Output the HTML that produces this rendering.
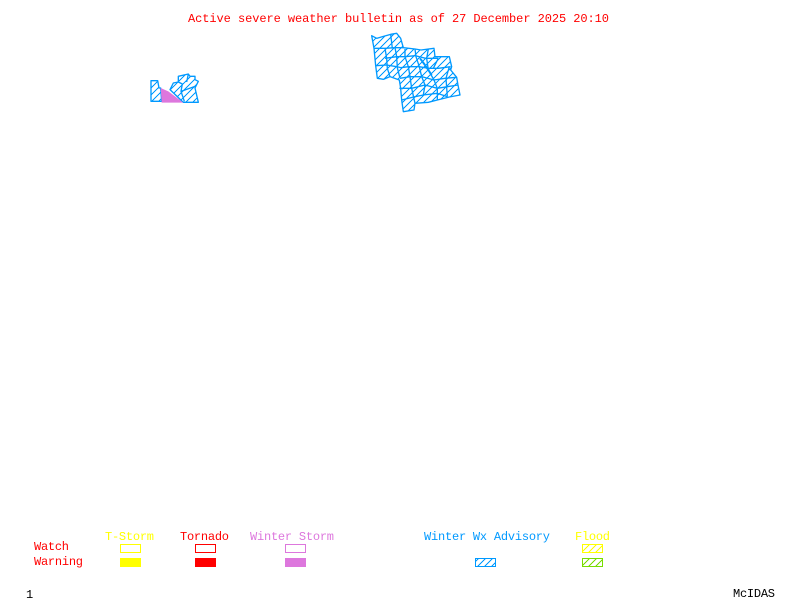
<!DOCTYPE html>
<html>
<head>
<meta charset="utf-8">
<style>
html,body{margin:0;padding:0;background:#fff;width:800px;height:600px;overflow:hidden}
svg{display:block}
text{font-family:"Liberation Mono",monospace;font-size:12px;white-space:pre}
</style>
</head>
<body>
<svg width="800" height="600" viewBox="0 0 800 600" xmlns="http://www.w3.org/2000/svg">
<defs>
<pattern id="hb" width="7" height="7" patternUnits="userSpaceOnUse" patternTransform="translate(1 0)">
<path d="M-1 8L8 -1M-1 1L1 -1M6 8L8 6" stroke="#0099ff" stroke-width="1.2" fill="none" shape-rendering="crispEdges"/>
</pattern>
<pattern id="hy" width="7" height="7" patternUnits="userSpaceOnUse">
<path d="M-1 8L8 -1M-1 1L1 -1M6 8L8 6" stroke="#ffff00" stroke-width="1" fill="none" shape-rendering="crispEdges"/>
</pattern>
<pattern id="hg" width="7" height="7" patternUnits="userSpaceOnUse">
<path d="M-1 8L8 -1M-1 1L1 -1M6 8L8 6" stroke="#77dd00" stroke-width="1" fill="none" shape-rendering="crispEdges"/>
</pattern>
</defs>

<text x="188" y="22" fill="#ff0000" textLength="421" lengthAdjust="spacing">Active severe weather bulletin as of 27 December 2025 20:10</text>

<!-- large advisory region -->
<path fill="url(#hb)" d="M372 36L377 38L391 34L397 33L401 38L403 48L415 49L421 50L434 48L435 57L449 57L452 67L451 70L457 77L458 85L460 95L449 97L437 100L428 102L415 103L414 110L403 112L401 100L402 88L399 80L390 77L384 79L377 78L375 58L374 48Z"/>
<g transform="translate(360 25) scale(0.3333)" stroke="#0099ff" stroke-width="4" fill="none" stroke-linejoin="round">
<path d="M35 32L50 40L92 28L110 25L122 40L130 68L165 72L183 75L222 70L225 95L268 95L275 125L272 135L290 157L294 180L300 210L268 216L232 225L205 232L165 235L162 255L130 260L125 225L122 190L118 165L90 155L70 163L52 160L47 122L42 70Z"/>
<path d="M92 28L97 70M42 70L75 70L105 68L130 68"/>
<path d="M75 70L80 100L82 130L90 155M75 100L110 95L135 95L165 92L197 100L235 100"/>
<path d="M105 68L110 95L112 128L120 160M135 72L135 95L145 125L150 155L155 190L165 235"/>
<path d="M165 72L168 95L178 125L185 155L195 180L190 210M205 72L200 100L205 135L222 165L232 190L232 225"/>
<path d="M47 122L80 120L110 125L122 128L145 125L178 125L205 130L235 130L272 125"/>
<path d="M235 100L220 130M120 160L150 155L185 155L222 165L255 160L290 157"/>
<path d="M118 190L155 190L195 180L232 190L262 185L294 180M125 225L165 215L190 210L232 205L262 215M268 125L258 160L262 215"/>
<path d="M180 100L195 120L205 135L215 150" stroke-width="6"/>
</g>

<!-- small region -->
<path fill="url(#hb)" d="M151 80.7L157.7 80.7L159 88L160.7 88L161.7 101.3L151 101.3Z"/>
<path fill="url(#hb)" d="M170 89.7L173.3 83L178.3 82L178.3 76.3L188.3 74L190 76.3L195 76.3L195 79.7L198.3 81.3L195 88L198.3 102.3L183.3 102.3Z"/>
<g transform="translate(145 68) scale(0.3333)">
<g fill="none" stroke="#0099ff" stroke-width="4" stroke-linejoin="round">
<path d="M18 38L38 38L42 60L47 60L50 100L18 100Z"/>
<path d="M75 65L85 45L100 42L100 25L130 18L135 25L150 25L150 35L160 40L150 60L160 103L115 103Z"/>
<path d="M100 42L112 48L108 70L118 100M108 70L150 55M130 18L125 42"/>
</g>
<path fill="#dd77dd" d="M47 60L70 70L115 104L65 104L50 104Z"/>
</g>

<!-- legend -->
<text x="105" y="540" fill="#ffff00" textLength="49" lengthAdjust="spacing">T-Storm</text>
<text x="180" y="540" fill="#ff0000" textLength="49" lengthAdjust="spacing">Tornado</text>
<text x="250" y="540" fill="#dd77dd" textLength="84" lengthAdjust="spacing">Winter Storm</text>
<text x="424" y="540" fill="#0099ff" textLength="126" lengthAdjust="spacing">Winter Wx Advisory</text>
<text x="575" y="540" fill="#ffff00" textLength="35" lengthAdjust="spacing">Flood</text>
<text x="34" y="550" fill="#ff0000" textLength="35" lengthAdjust="spacing">Watch</text>
<text x="34" y="565" fill="#ff0000" textLength="49" lengthAdjust="spacing">Warning</text>

<g shape-rendering="crispEdges" stroke-width="1">
<rect x="120.5" y="544.5" width="20" height="8" fill="none" stroke="#ffff00"/>
<rect x="195.5" y="544.5" width="20" height="8" fill="none" stroke="#ff0000"/>
<rect x="285.5" y="544.5" width="20" height="8" fill="none" stroke="#dd77dd"/>
<rect x="582.5" y="544.5" width="20" height="8" fill="url(#hy)" stroke="#ffff00"/>
<rect x="120" y="558" width="21" height="9" fill="#ffff00"/>
<rect x="195" y="558" width="21" height="9" fill="#ff0000"/>
<rect x="285" y="558" width="21" height="9" fill="#dd77dd"/>
<rect x="475.5" y="558.5" width="20" height="8" fill="url(#hb)" stroke="#0099ff"/>
<rect x="582.5" y="558.5" width="20" height="8" fill="url(#hg)" stroke="#77dd00"/>
</g>

<text x="26" y="598" fill="#000000">1</text>
<text x="733" y="597" fill="#000000" textLength="42" lengthAdjust="spacing">McIDAS</text>
</svg>
</body>
</html>
